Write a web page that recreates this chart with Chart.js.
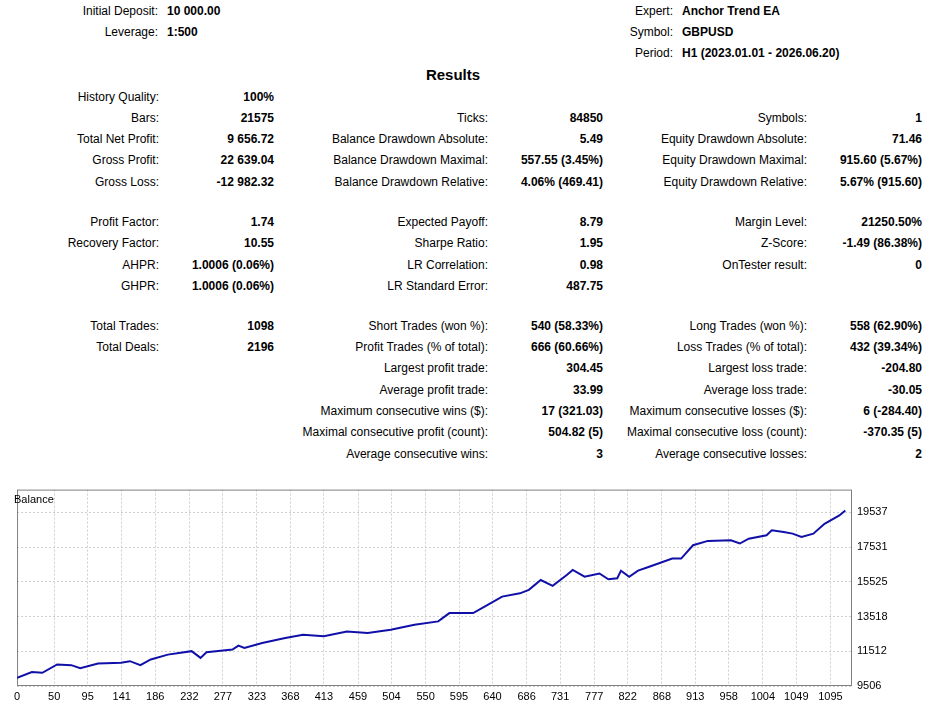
<!DOCTYPE html>
<html>
<head>
<meta charset="utf-8">
<script src="https://cdn.jsdelivr.net/npm/chart.js@4"></script>
<style>
  body { margin: 0; background: #fff; font-family: "Liberation Sans", Arial, sans-serif; font-size: 12px; color: #000; }
  .t { position: absolute; white-space: nowrap; line-height: 14px; }
  .r { text-align: right; }
  .b { font-weight: bold; }
  #wrap { position: absolute; left: 10px; top: 478px; width: 920px; height: 242px; }
  #ttl { position: absolute; left: 14px; top: 492px; font-size: 11px; }
</style>
</head>
<body>
<div id="page"></div>
<div id="wrap"><canvas id="balanceChart"></canvas></div>
<div id="ttl" class="t">Balance</div>
<script>
// balance curve (trade number, balance)
const tradeNo = [0, 20, 34, 54, 73, 85, 109, 140, 152, 166, 180, 203, 235, 247, 255, 290, 298, 306, 330, 361, 385, 413, 444, 472, 503, 535, 567, 582, 614, 630, 653, 677, 689, 705, 721, 740, 748, 764, 784, 796, 808, 813, 824, 836, 851, 882, 894, 910, 930, 961, 973, 985, 1009, 1016, 1032, 1044, 1056, 1072, 1087, 1107, 1115];
const balance = [9985, 10310, 10270, 10750, 10710, 10540, 10810, 10850, 10940, 10710, 11040, 11320, 11520, 11130, 11460, 11610, 11840, 11710, 11990, 12280, 12470, 12380, 12660, 12570, 12760, 13050, 13240, 13720, 13720, 14100, 14670, 14860, 15060, 15630, 15290, 15920, 16210, 15820, 16010, 15670, 15730, 16170, 15820, 16170, 16400, 16870, 16870, 17640, 17890, 17930, 17740, 18020, 18220, 18500, 18410, 18310, 18120, 18310, 18880, 19360, 19650];
const xTicks = [0, 50, 95, 141, 186, 232, 277, 323, 368, 413, 459, 504, 550, 595, 640, 686, 731, 777, 822, 868, 913, 958, 1004, 1049, 1095];
const yTicks = [9506, 11512, 13518, 15525, 17531, 19537];

// report text: [text, x, y, align, bold]
const texts = [
  ['Initial Deposit:', 158, 4, 'r', 0], ['10 000.00', 167, 4, 'l', 1],
  ['Leverage:', 158, 25, 'r', 0], ['1:500', 167, 25, 'l', 1],
  ['Expert:', 673, 4, 'r', 0], ['Anchor Trend EA', 682, 4, 'l', 1],
  ['Symbol:', 673, 25, 'r', 0], ['GBPUSD', 682, 25, 'l', 1],
  ['Period:', 673, 46, 'r', 0], ['H1 (2023.01.01 - 2026.06.20)', 682, 46, 'l', 1]
];
const rows = [
  [90, ['History Quality:', '100%'], null, null],
  [111, ['Bars:', '21575'], ['Ticks:', '84850'], ['Symbols:', '1']],
  [132, ['Total Net Profit:', '9 656.72'], ['Balance Drawdown Absolute:', '5.49'], ['Equity Drawdown Absolute:', '71.46']],
  [153, ['Gross Profit:', '22 639.04'], ['Balance Drawdown Maximal:', '557.55 (3.45%)'], ['Equity Drawdown Maximal:', '915.60 (5.67%)']],
  [175, ['Gross Loss:', '-12 982.32'], ['Balance Drawdown Relative:', '4.06% (469.41)'], ['Equity Drawdown Relative:', '5.67% (915.60)']],
  [215, ['Profit Factor:', '1.74'], ['Expected Payoff:', '8.79'], ['Margin Level:', '21250.50%']],
  [236, ['Recovery Factor:', '10.55'], ['Sharpe Ratio:', '1.95'], ['Z-Score:', '-1.49 (86.38%)']],
  [258, ['AHPR:', '1.0006 (0.06%)'], ['LR Correlation:', '0.98'], ['OnTester result:', '0']],
  [279, ['GHPR:', '1.0006 (0.06%)'], ['LR Standard Error:', '487.75'], null],
  [319, ['Total Trades:', '1098'], ['Short Trades (won %):', '540 (58.33%)'], ['Long Trades (won %):', '558 (62.90%)']],
  [340, ['Total Deals:', '2196'], ['Profit Trades (% of total):', '666 (60.66%)'], ['Loss Trades (% of total):', '432 (39.34%)']],
  [361, null, ['Largest profit trade:', '304.45'], ['Largest loss trade:', '-204.80']],
  [383, null, ['Average profit trade:', '33.99'], ['Average loss trade:', '-30.05']],
  [404, null, ['Maximum consecutive wins ($):', '17 (321.03)'], ['Maximum consecutive losses ($):', '6 (-284.40)']],
  [425, null, ['Maximal consecutive profit (count):', '504.82 (5)'], ['Maximal consecutive loss (count):', '-370.35 (5)']],
  [447, null, ['Average consecutive wins:', '3'], ['Average consecutive losses:', '2']]
];
const cols = [[159, 274], [488, 603], [807, 922]];

const page = document.getElementById('page');
function put(txt, x, y, align, bold) {
  const d = document.createElement('div');
  d.className = 't' + (bold ? ' b' : '') + (align === 'r' ? ' r' : '');
  d.textContent = txt;
  d.style.top = y + 'px';
  if (align === 'r') d.style.right = (930 - x) + 'px'; else d.style.left = x + 'px';
  page.appendChild(d);
}
texts.forEach(t => put(t[0], t[1], t[2], t[3], t[4]));
rows.forEach(r => {
  for (let c = 0; c < 3; c++) {
    const cell = r[c + 1];
    if (!cell) continue;
    put(cell[0], cols[c][0], r[0], 'r', 0);
    put(cell[1], cols[c][1], r[0], 'r', 1);
  }
});
const res = document.createElement('div');
res.className = 't b';
res.textContent = 'Results';
res.style.cssText = 'left:0;width:906px;text-align:center;top:66px;font-size:15px;line-height:18px;';
page.appendChild(res);

const gridStyle = { color: '#cfcfcf', lineWidth: 1, tickLength: 0 };
new Chart(document.getElementById('balanceChart'), {
  type: 'line',
  data: {
    datasets: [{
      data: tradeNo.map((x, i) => ({ x: x, y: balance[i] })),
      borderColor: '#1010a8',
      borderWidth: 2,
      pointRadius: 0,
      tension: 0
    }]
  },
  options: {
    responsive: true,
    maintainAspectRatio: false,
    animation: false,
    layout: { padding: 0 },
    plugins: { legend: { display: false }, tooltip: { enabled: false } },
    scales: {
      x: {
        type: 'linear', min: 0, max: 1124,
        afterBuildTicks: s => { s.ticks = xTicks.map(v => ({ value: v })); },
        afterFit: s => { s.height = 34; },
        grid: gridStyle,
        border: { display: false, dash: [2, 2] },
        ticks: { color: '#000', font: { size: 11, family: 'Liberation Sans' }, maxRotation: 0, autoSkip: false, padding: 4, callback: v => String(v) }
      },
      y: {
        position: 'right', min: 9506, max: 20855,
        afterBuildTicks: s => { s.ticks = yTicks.map(v => ({ value: v })); },
        afterFit: s => { s.width = 78; },
        grid: gridStyle,
        border: { display: false, dash: [2, 2] },
        ticks: { color: '#000', font: { size: 11, family: 'Liberation Sans' }, padding: 5, callback: v => String(v) }
      }
    }
  },
  plugins: [{
    id: 'frame',
    beforeDatasetsDraw(chart) {
      const { ctx, chartArea: a } = chart;
      ctx.save();
      ctx.strokeStyle = '#808080';
      ctx.lineWidth = 1;
      ctx.strokeRect(a.left + 0.5, a.top + 0.5, a.width - 1, a.height - 1);
      ctx.restore();
    }
  }]
});
</script>
</body>
</html>
